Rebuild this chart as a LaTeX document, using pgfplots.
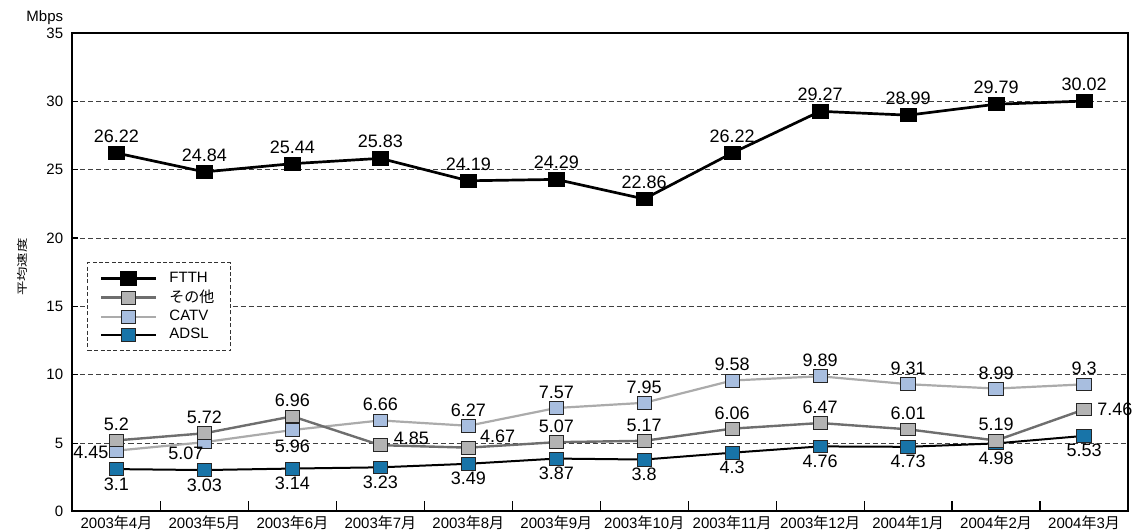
\documentclass[border=0pt]{standalone}
\usepackage{fontspec}
\setmainfont{Liberation Sans}
\newfontfamily\jp{Noto Sans CJK JP}
\usepackage{graphicx}
\usepackage{pgfplots}
\usepackage{pgfplotstable}
\pgfplotsset{compat=1.18}

\definecolor{adslblue}{HTML}{1874A8}
\definecolor{catvfill}{HTML}{A8BEDF}
\definecolor{catvline}{HTML}{ABABAB}
\definecolor{otherfill}{HTML}{B3B3B3}
\definecolor{otherline}{HTML}{6E6E6E}

\newcommand{\ym}[2]{#1{\jp 年}#2{\jp 月}}

\pgfplotstableread{
x y
0 3.1
1 3.03
2 3.14
3 3.23
4 3.49
5 3.87
6 3.8
7 4.3
8 4.76
9 4.73
10 4.98
11 5.53
}\adsl

\pgfplotstableread{
x y
0 4.45
1 5.07
2 5.96
3 6.66
4 6.27
5 7.57
6 7.95
7 9.58
8 9.89
9 9.31
10 8.99
11 9.3
}\catv

\pgfplotstableread{
x y
0 5.2
1 5.72
2 6.96
3 4.85
4 4.67
5 5.07
6 5.17
7 6.06
8 6.47
9 6.01
10 5.19
11 7.46
}\other

\pgfplotstableread{
x y
0 26.22
1 24.84
2 25.44
3 25.83
4 24.19
5 24.29
6 22.86
7 26.22
8 29.27
9 28.99
10 29.79
11 30.02
}\ftth

\pgfplotsset{
  labs/.style n args={5}{
    draw=none, mark=none, forget plot,
    restrict x to domain=#1:#2,
    point meta=explicit symbolic,
    nodes near coords,
    every node near coord/.append style={anchor=#3, xshift=#4, yshift=#5,
      inner sep=0pt, font=\fontsize{9}{10}\selectfont, text=black},
  },
  mlabs/.style n args={3}{
    point meta=explicit symbolic,
    nodes near coords,
    every node near coord/.append style={anchor=#1, xshift=#2, yshift=#3,
      inner sep=0pt, font=\fontsize{9}{10}\selectfont, text=black},
  },
}

\begin{document}
\begin{tikzpicture}
\begin{axis}[
  name=ax, at={(0,0)}, anchor=south west,
  scale only axis, width=527.75pt, height=239.25pt,
  xmin=-0.5, xmax=11.5, ymin=0, ymax=35,
  ytick={0,5,...,35},
  xtick={0,...,11},
  xticklabels={\ym{2003}{4},\ym{2003}{5},\ym{2003}{6},\ym{2003}{7},\ym{2003}{8},\ym{2003}{9},\ym{2003}{10},\ym{2003}{11},\ym{2003}{12},\ym{2004}{1},\ym{2004}{2},\ym{2004}{3}},
  minor xtick={0.5,1.5,...,10.5},
  tick align=inside, tick pos=left,
  major tick length=2.8pt, minor tick length=5pt,
  major x tick style={draw=none},
  tick style={black, line width=0.6pt},
  axis line style={line width=1pt},
  ymajorgrids,
  grid style={black!75, line width=0.5pt, dash pattern=on 2.5pt off 1.5pt},
  /pgf/number format/assume math mode=true,
  yticklabel style={font=\fontsize{7.5}{9}\selectfont, inner sep=0pt, xshift=-4.5pt},
  xticklabel style={font=\fontsize{7.5}{9}\selectfont, inner sep=0pt, yshift=-2pt},
  ylabel={\scalebox{1}[0.75]{\jp 平均速度}},
  every axis y label/.style={at={([xshift=-25pt,yshift=2.6pt]rel axis cs:0,0.5)}, rotate=90, anchor=center, font=\fontsize{7.2}{8}\selectfont},
  clip=false,
  legend cell align=left,
  reverse legend,
  legend image code/.code={\draw[mark repeat=2,mark phase=2,#1] plot coordinates {(0pt,0pt) (13.75pt,0pt) (27.5pt,0pt)};},
  legend style={at={(0.014,0.521)}, anchor=north west, fill=white,
    draw=black!80, line width=0.5pt, dash pattern=on 2pt off 1.2pt,
    font=\fontsize{7.5}{9}\selectfont, inner xsep=6pt, inner ysep=2.5pt, row sep=-1.6pt,
    /tikz/every odd column/.append style={column sep=4pt}},
]
\addplot[mlabs={north}{0pt}{-4pt}, solid, draw=black, line width=1pt, mark=square*, mark size=3.2pt,
  mark options={solid, fill=adslblue, draw=black!85, line width=0.4pt, xscale=1.13}]
  table[x=x, y=y, meta=y]{\adsl};
\addlegendentry{ADSL}
\addplot[solid, draw=catvline, line width=1.1pt, mark=square*, mark size=3.2pt,
  mark options={solid, fill=catvfill, draw=black!85, line width=0.4pt, xscale=1.13}]
  table[x=x, y=y]{\catv};
\addlegendentry{CATV}
\addplot[solid, draw=otherline, line width=1.2pt, mark=square*, mark size=3.2pt,
  mark options={solid, fill=otherfill, draw=black!85, line width=0.4pt, xscale=1.13}]
  table[x=x, y=y]{\other};
\addlegendentry{\jp その他}
\addplot[mlabs={south}{0pt}{5pt}, solid, draw=black, line width=1.35pt, mark=square*, mark size=3.3pt,
  mark options={solid, fill=black, draw=black, line width=0.4pt, xscale=1.2}]
  table[x=x, y=y, meta=y]{\ftth};
\addlegendentry{FTTH}
% data labels of CATV
\addplot[labs={2.5}{11.5}{south}{0pt}{4.5pt}] table[x=x, y=y, meta=y]{\catv};
\addplot[labs={-0.5}{0.5}{east}{-3.8pt}{-0.8pt}] table[x=x, y=y, meta=y]{\catv};
\addplot[labs={0.5}{1.5}{north}{-9.25pt}{-2pt}] table[x=x, y=y, meta=y]{\catv};
\addplot[labs={1.5}{2.5}{north}{0pt}{-5pt}] table[x=x, y=y, meta=y]{\catv};
% data labels of the others
\addplot[labs={-0.5}{2.5}{south}{0pt}{4.5pt}] table[x=x, y=y, meta=y]{\other};
\addplot[labs={4.5}{10.5}{south}{0pt}{4.5pt}] table[x=x, y=y, meta=y]{\other};
\addplot[labs={2.5}{3.5}{west}{6.5pt}{3.5pt}] table[x=x, y=y, meta=y]{\other};
\addplot[labs={3.5}{4.5}{west}{5.75pt}{5.7pt}] table[x=x, y=y, meta=y]{\other};
\addplot[labs={10.5}{11.5}{west}{6.5pt}{0pt}] table[x=x, y=y, meta=y]{\other};
\end{axis}
\node[anchor=base east, font=\fontsize{7.5}{9}\selectfont, inner sep=0pt] at ([xshift=-4.5pt,yshift=5.5pt]ax.north west) {Mbps};
\pgfresetboundingbox
\path ([xshift=-36.25pt,yshift=-10.25pt]ax.south west) rectangle ([xshift=3pt,yshift=16.5pt]ax.north east);
\end{tikzpicture}
\end{document}
